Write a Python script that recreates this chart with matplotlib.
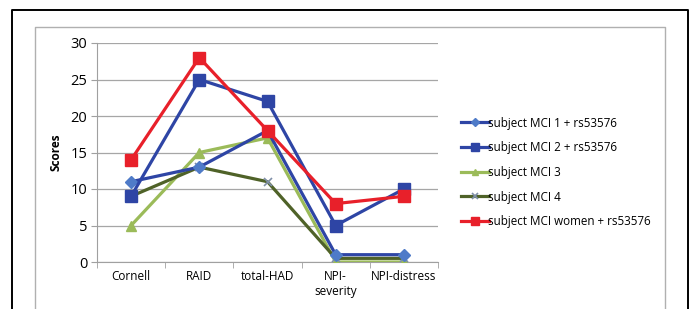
import matplotlib.pyplot as plt
from matplotlib.lines import Line2D
import numpy as np

plt.rcParams['font.family'] = ['Open Sans', 'DejaVu Sans']

categories = ["Cornell", "RAID", "total-HAD", "NPI-\nseverity", "NPI-distress"]
mci1 = [11, 13, 18, 1, 1]
mci2 = [9, 25, 22, 5, 10]
mci3 = [5, 15, 17, 0, 0]
mci4 = [9, 13, 11, 0.5, 0.5]
women = [14, 28, 18, 8, 9]
labels = ["subject MCI 1 + rs53576", "subject MCI 2 + rs53576", "subject MCI 3",
          "subject MCI 4", "subject MCI women + rs53576"]

fig = plt.figure(figsize=(6.96, 3.09), dpi=100)
W, H = 696, 309

# outer frame (black) and inner chart frame (gray), open at the bottom
def frame(l, t, r, color, lw):
    xs = [l / W, l / W, r / W, r / W]
    ys = [-0.05, 1 - t / H, 1 - t / H, -0.05]
    fig.lines.append(Line2D(xs, ys, transform=fig.transFigure, color=color, lw=lw))

frame(12, 10, 688, 'black', 1.4)
frame(35, 27, 665, '#b0b0b0', 1.0)

ax = fig.add_axes([97 / W, 1 - 262 / H, (438 - 97) / W, (262 - 43) / H])
x = np.arange(len(categories))

ax.plot(x, mci1, color='#2E45A5', lw=2.3, marker='D', ms=6,
        mfc='#4F7BC8', mec='#4F7BC8', label=labels[0], zorder=4)
ax.plot(x, mci2, color='#2E45A5', lw=2.3, marker='s', ms=8,
        mfc='#2E45A5', mec='#2E45A5', label=labels[1], zorder=4)
ax.plot(x, mci3, color='#9BBB59', lw=2.3, marker='^', ms=7,
        mfc='#9BBB59', mec='#9BBB59', label=labels[2], zorder=3)
ax.plot(x, mci4, color='#4F6228', lw=2.3, marker='x', ms=6, mew=1.2,
        mec='#7F8FA8', label=labels[3], zorder=3)
ax.plot(x, women, color='#E8202A', lw=2.3, marker='s', ms=8,
        mfc='#E8202A', mec='#E8202A', label=labels[4], zorder=5)

ax.set_xlim(-0.5, len(categories) - 0.5)
ax.set_ylim(0, 30)
ax.set_yticks(range(0, 31, 5))
ax.set_xticks(x)
ax.set_xticklabels(categories, fontsize=8.5)
ax.set_xticks(np.arange(-0.5, len(categories), 1), minor=True)
ax.tick_params(axis='x', which='major', length=0, pad=6)
ax.tick_params(axis='x', which='minor', length=4, color='#a0a0a0', direction='out')
ax.tick_params(axis='y', labelsize=10.5, length=4, color='#a0a0a0', pad=3)
ax.yaxis.grid(True, color='#a6a6a6', linewidth=0.9)
ax.set_axisbelow(True)
for s in ['top', 'right']:
    ax.spines[s].set_visible(False)
ax.spines['left'].set_color('#a0a0a0')
ax.spines['bottom'].set_color('#a0a0a0')
ax.set_ylabel("Scores", fontsize=8.5, fontweight='bold', labelpad=6)

leg = fig.legend(loc='upper left', bbox_to_anchor=(450 / W, 1 - 106 / H),
                 frameon=False, fontsize=8.4, handlelength=2.4,
                 handletextpad=0.0, labelspacing=1.0, markerscale=0.7)

fig.savefig('out.png', dpi=100)
